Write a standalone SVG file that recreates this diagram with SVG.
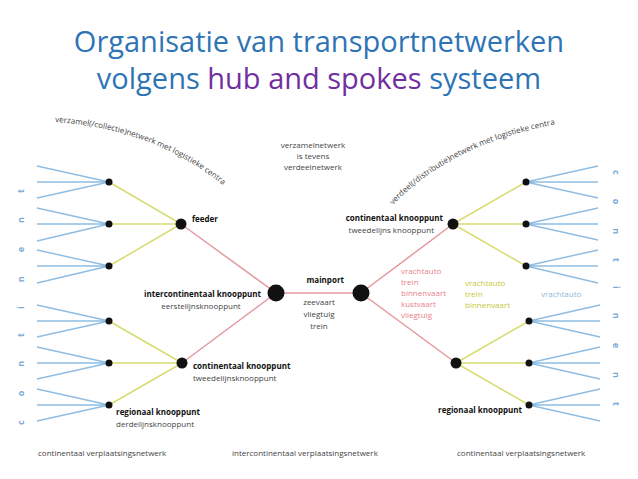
<svg xmlns="http://www.w3.org/2000/svg" width="638" height="479" viewBox="0 0 638 479">
<style>
text{font-family:"Open Sans","DejaVu Sans",sans-serif;font-size:8px;fill:#444}
.b{font-weight:bold;fill:#111}
.t{font-size:29px;fill:#2e74b5}
.bl{stroke:#8fbde3;stroke-width:1.5}
.ye{stroke:#d8dc70;stroke-width:1.5}
.re{stroke:#e49aa0;stroke-width:1.5}
.r{fill:#e8828a}.y{fill:#c4c83a}.c{fill:#8fb8e0}
.let{font-size:9px;fill:#7aa8d8;font-weight:bold;letter-spacing:24px}
</style>
<rect width="638" height="479" fill="#fff"/>
<text class="t" x="319" y="52" text-anchor="middle">Organisatie van transportnetwerken</text>
<text class="t" x="319" y="89" text-anchor="middle">volgens <tspan fill="#7030a0">hub and spokes</tspan> systeem</text>
<defs>
<path id="arcL" d="M55,122 Q170,130 245,205"/>
<path id="arcR" d="M393,205 Q460,135 585,120"/>
</defs>
<text font-size="7.5"><textPath href="#arcL">verzamel(/collectie)netwerk met logistieke centra</textPath></text>
<text font-size="7.5"><textPath href="#arcR">verdeel(/distributie)netwerk met logistieke centra</textPath></text>
<g id="connectors" fill="none">
<g class="bl">
<path d="M109,182L37,166M109,182L37,182M109,182L37,198M109,224L37,208M109,224L37,224M109,224L37,241M109,266L37,250M109,266L37,266M109,266L37,283"/>
<path d="M109,321L37,305M109,321L37,321M109,321L37,337M109,363L37,347M109,363L37,363M109,363L37,379M109,405L37,389M109,405L37,405M109,405L37,421"/>
<path d="M526,182L598,166M526,182L598,182M526,182L598,198M526,224L598,208M526,224L598,224M526,224L598,240M526,266L598,250M526,266L598,266M526,266L598,283"/>
<path d="M529,321L600,305M529,321L600,321M529,321L600,337M529,363L600,347M529,363L600,363M529,363L600,379M529,405L600,389M529,405L600,405M529,405L600,421"/>
</g>
<g class="ye">
<path d="M181,224L109,182M181,224L109,224M181,224L109,266M182,363L109,321M182,363L109,363M182,363L109,405"/>
<path d="M453,224L526,182M453,224L526,224M453,224L526,266M456,363L529,321M456,363L529,363M456,363L529,405"/>
</g>
<g class="re">
<path d="M181,224L276,293L182,363M276,293L361,293M453,224L361,293L456,363"/>
</g>
</g>
<g id="nodes" fill="#111">
<g id="n-small"><circle cx="109" cy="182" r="3.5"/><circle cx="109" cy="224" r="3.5"/><circle cx="109" cy="266" r="3.5"/><circle cx="109" cy="321" r="3.5"/><circle cx="109" cy="363" r="3.5"/><circle cx="109" cy="405" r="3.5"/><circle cx="526" cy="182" r="3.5"/><circle cx="526" cy="224" r="3.5"/><circle cx="526" cy="266" r="3.5"/><circle cx="529" cy="321" r="3.5"/><circle cx="529" cy="363" r="3.5"/><circle cx="529" cy="405" r="3.5"/></g>
<g id="feeder"><circle cx="181" cy="224" r="5.5"/><text class="b" x="192" y="222">feeder</text></g>
<g id="intercont"><circle cx="276" cy="293" r="8.5"/><text class="b" x="261" y="297" text-anchor="end">intercontinentaal knooppunt</text><text x="201" y="309" text-anchor="middle">eerstelijnsknooppunt</text></g>
<g id="mainport"><circle cx="361" cy="293" r="8.5"/><text class="b" x="344" y="283" text-anchor="end">mainport</text><text x="319" y="305" text-anchor="middle">zeevaart</text><text x="319" y="317" text-anchor="middle">vliegtuig</text><text x="319" y="329" text-anchor="middle">trein</text></g>
<g id="contR"><circle cx="453" cy="224" r="5.5"/><text class="b" x="443" y="221" text-anchor="end">continentaal knooppunt</text><text x="434" y="233" text-anchor="end">tweedelijns knooppunt</text></g>
<g id="contL"><circle cx="182" cy="363" r="5.5"/><text class="b" x="193" y="369">continentaal knooppunt</text><text x="193" y="381">tweedelijnsknooppunt</text></g>
<g id="regL"><text class="b" x="116" y="415">regionaal knooppunt</text><text x="116" y="427">derdelijnsknooppunt</text></g>
<g id="regR"><circle cx="456" cy="363" r="5.5"/><text class="b" x="522" y="413" text-anchor="end">regionaal knooppunt</text></g>
</g>
<text x="313" y="148" text-anchor="middle">verzamelnetwerk</text>
<text x="313" y="159" text-anchor="middle">is tevens</text>
<text x="313" y="170" text-anchor="middle">verdeelnetwerk</text>
<g class="r"><text class="r" x="401" y="274">vrachtauto</text><text class="r" x="401" y="285">trein</text><text class="r" x="401" y="296">binnenvaart</text><text class="r" x="401" y="307">kustvaart</text><text class="r" x="401" y="318">vliegtuig</text></g>
<text class="y" x="465" y="286">vrachtauto</text><text class="y" x="465" y="297">trein</text><text class="y" x="465" y="308">binnenvaart</text>
<text class="c" x="541" y="297">vrachtauto</text>
<text class="let" transform="translate(24,425) rotate(-90)">continent</text>
<text class="let" transform="translate(613,170) rotate(90)">continent</text>
<text x="38" y="456">continentaal verplaatsingsnetwerk</text>
<text x="232" y="456">intercontinentaal verplaatsingsnetwerk</text>
<text x="457" y="456">continentaal verplaatsingsnetwerk</text>
</svg>
